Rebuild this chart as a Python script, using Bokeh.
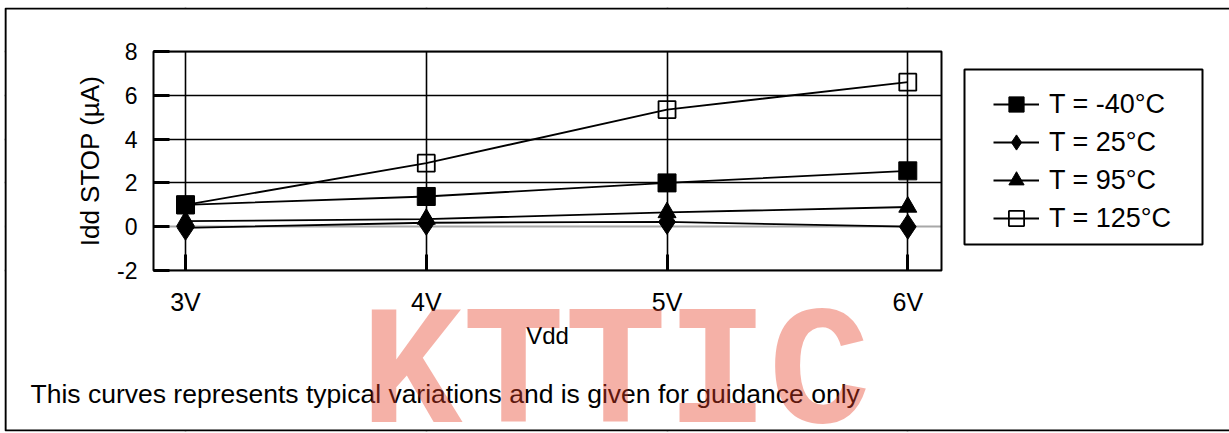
from bokeh.plotting import figure
from bokeh.models import (Range1d, FixedTicker, Grid, Legend, LegendItem, Label,
                          BoxAnnotation)
from bokeh.embed import file_html
from bokeh.resources import INLINE

# ---- data ----
vdd = [3, 4, 5, 6]
vdd_labels = ["3V", "4V", "5V", "6V"]
t_m40 = [1.0, 1.38, 2.0, 2.55]
t_25 = [-0.05, 0.18, 0.22, 0.0]
t_95 = [0.25, 0.35, 0.65, 0.9]
t_125 = [1.0, 2.9, 5.35, 6.6]
series_names = ["T = -40°C", "T = 25°C", "T = 95°C", "T = 125°C"]
y_ticks = [-2, 0, 2, 4, 6, 8]
footer = "This curves represents typical variations and is given for guidance only"
watermark = "KTTIC"

FONT = "Liberation Sans"

# ---- geometry (canvas pixels) ----
W, H = 1229, 433
FL, FR, FT, FB = 4, 1229, 7, 431          # outer frame
CL, CR, CT, CB = 153, 941, 51, 270        # chart plot area
X0, X1 = 2.867, 6.14                       # chart x extent (data)
Y0, Y1 = -2, 8                             # chart y extent (data)
ppx = (CR - CL) / (X1 - X0)
ppy = (CB - CT) / (Y1 - Y0)
x_range = Range1d(X0 - (CL - FL) / ppx, X1 + (FR - CR) / ppx)
y_range = Range1d(Y0 - (FB - CB) / ppy, Y1 + (CT - FT) / ppy)

p = figure(width=W, height=H, output_backend="svg", toolbar_location=None,
           x_range=x_range, y_range=y_range,
           min_border_left=FL, min_border_top=FT, min_border_right=W - FR,
           min_border_bottom=H - FB, background_fill_color="white",
           border_fill_color="white")
p.outline_line_color = None

# outer frame (open on the right, as in the reference)
p.add_layout(BoxAnnotation(left=FL + 1, right=FR + 20, top=FT + 1, bottom=FB - 1,
                           left_units="canvas", right_units="canvas",
                           top_units="canvas", bottom_units="canvas",
                           fill_alpha=0, line_color="black", line_alpha=1,
                           line_width=2.2, level="overlay"))

# axes fixed on the chart area edges
for ax in (p.xaxis[0], p.yaxis[0]):
    ax.axis_line_color = None
    ax.major_tick_in = 16
    ax.major_tick_out = 0
    ax.major_tick_line_width = 3
    ax.major_tick_line_color = "black"
    ax.minor_tick_line_color = None
    ax.major_label_text_font = FONT
    ax.major_label_text_color = "black"
    ax.axis_label_text_font = FONT
    ax.axis_label_text_font_style = "normal"
    ax.axis_label_text_color = "black"

xa = p.xaxis[0]
xa.fixed_location = Y0
xa.bounds = (X0, X1)
xa.ticker = FixedTicker(ticks=vdd)
xa.major_label_overrides = {v: l for v, l in zip(vdd, vdd_labels)}
xa.major_label_text_font_size = "25px"
xa.major_label_standoff = 17
xa.axis_label = "Vdd"
xa.axis_label_text_font_size = "24px"
xa.axis_label_standoff = 3

ya = p.yaxis[0]
ya.fixed_location = X0
ya.bounds = (Y0, Y1)
ya.ticker = FixedTicker(ticks=y_ticks)
ya.major_label_overrides = {t: str(t) for t in y_ticks}
ya.major_label_text_font_size = "23px"
ya.major_label_standoff = 16
ya.axis_label = "Idd STOP (µA)"
ya.axis_label_text_font_size = "26px"
ya.axis_label_standoff = 9

# grid
p.xgrid.ticker = FixedTicker(ticks=vdd)
p.xgrid.grid_line_color = "black"
p.xgrid.grid_line_width = 1.6
p.ygrid.ticker = FixedTicker(ticks=[t for t in y_ticks if t != 0])
p.ygrid.grid_line_color = "black"
p.ygrid.grid_line_width = 1.6
p.add_layout(Grid(dimension=1, ticker=FixedTicker(ticks=[0]),
                  grid_line_color="#a8a8a8", grid_line_width=2))

# white masks so that the grid only shows inside the chart area
for kw in (dict(right=X0), dict(left=X1), dict(left=X0, right=X1, bottom=Y1),
           dict(left=X0, right=X1, top=Y0)):
    p.add_layout(BoxAnnotation(fill_color="white", fill_alpha=1, line_alpha=0,
                               level="underlay", **kw))

# chart plot area box
p.add_layout(BoxAnnotation(left=X0, right=X1, bottom=Y0, top=Y1, fill_alpha=0,
                           line_color="black", line_alpha=1, line_width=2,
                           level="underlay"))

# series
items = []
specs = [
    (t_m40, "square", 18, "black"),
    (t_25, "diamond", 25, "black"),
    (t_95, "triangle", 18, "black"),
    (t_125, "square", 17, None),
]
for (vals, marker, size, fill), name in zip(specs, series_names):
    ln = p.line(vdd, vals, line_color="black", line_width=1.8)
    if fill is None:
        sc = p.scatter(vdd, vals, marker=marker, size=size, line_color="black",
                       line_width=1.8, fill_alpha=0)
    else:
        sc = p.scatter(vdd, vals, marker=marker, size=size, line_color="black",
                       line_width=1, fill_color=fill)
    items.append(LegendItem(label=name, renderers=[ln, sc]))

# legend box and legend
LBL, LBR, LBT, LBB = 964, 1202, 69, 244
p.add_layout(BoxAnnotation(left=LBL, right=LBR, top=LBT, bottom=LBB,
                           left_units="canvas", right_units="canvas",
                           top_units="canvas", bottom_units="canvas",
                           fill_color="white", fill_alpha=1, line_color="black",
                           line_alpha=1, line_width=2))
legend = Legend(items=items, location=(993 - 12 - FL, FB - 249), glyph_width=46,
                glyph_height=38, spacing=0, padding=12, margin=0,
                label_standoff=10, label_text_font=FONT,
                label_text_font_size="27px", label_text_color="black",
                border_line_alpha=0, background_fill_alpha=0)
p.add_layout(legend, "center")

# footer note
p.add_layout(Label(x=30, y=393, x_units="canvas", y_units="canvas", text=footer,
                   text_font=FONT, text_font_size="26.5px", text_color="black",
                   text_baseline="middle", text_align="left"))

# watermark
p.add_layout(Label(x=615, y=376, x_units="canvas", y_units="canvas", text=watermark,
                   text_font="Liberation Mono", text_font_style="bold",
                   text_font_size="170px", text_color=(229, 60, 34),
                   text_alpha=0.4, text_baseline="middle", text_align="center",
                   level="overlay"))

open("out.html", "w").write(file_html(p, INLINE))
